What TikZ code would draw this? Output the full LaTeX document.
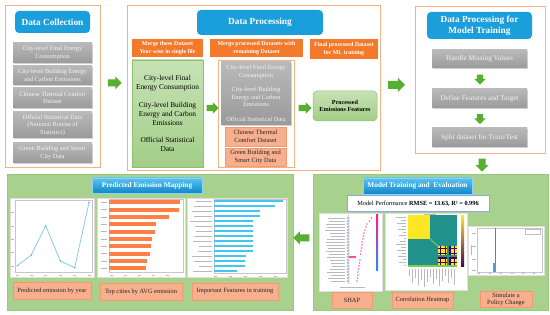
\documentclass[tikz,border=0pt]{standalone}
\usepackage{fontspec}
\setmainfont{Liberation Serif}
\usetikzlibrary{shapes.arrows,shadows}
\definecolor{panelor}{HTML}{F4B183}
\definecolor{hblue}{HTML}{1B9FDB}
\definecolor{gtop}{HTML}{B9B9B9}
\definecolor{gbot}{HTML}{9A9A9A}
\definecolor{gtext}{HTML}{F4F4F4}
\definecolor{orh}{HTML}{F5792B}
\definecolor{salm}{HTML}{F8AF8E}
\definecolor{salmb}{HTML}{F19A70}
\definecolor{gpfill}{HTML}{A9D18E}
\definecolor{gpbord}{HTML}{98C97A}
\definecolor{grlt}{HTML}{C6E2B5}
\definecolor{grdk}{HTML}{A3CE87}
\definecolor{grbord}{HTML}{8CC06C}
\definecolor{garr}{HTML}{58AE31}
\definecolor{sbtop}{HTML}{5CC2EE}
\definecolor{sbbot}{HTML}{0E88CB}
\definecolor{mpbord}{HTML}{8EA9DB}
\definecolor{lineblue}{HTML}{8ACBEA}
\definecolor{coral}{HTML}{FF7F45}
\definecolor{skyb}{HTML}{45C6F2}
\definecolor{shappink}{HTML}{FF1F7A}
\definecolor{shapblue}{HTML}{1E90FF}
\definecolor{vyel}{HTML}{FDE725}
\definecolor{vteal}{HTML}{21918C}
\definecolor{vpur}{HTML}{440154}
\definecolor{vgrn}{HTML}{7AD151}
\definecolor{redl}{HTML}{E05050}
\definecolor{barb}{HTML}{5B9BD5}
\newcommand\myfs[2]{\fontsize{#1}{#2}\selectfont}
\begin{document}
\begin{tikzpicture}[x=1pt,y=-1pt,
  panel/.style={draw=panelor, line width=0.8pt, fill=white, inner sep=0pt},
  gpanel/.style={draw=gpbord, fill=gpfill, line width=0.6pt, inner sep=0pt},
  bighead/.style={rounded corners=4pt, fill=hblue, text=white, font=\bfseries\myfs{9.3}{11}, align=center, inner sep=0pt},
  smallhead/.style={top color=sbtop, bottom color=sbbot, draw=sbtop!70!white, line width=0.4pt, text=white, font=\bfseries\myfs{7.3}{9}, align=center, inner sep=0pt},
  graybox/.style={top color=gtop, bottom color=gbot, draw=none, text=gtext, font=\myfs{6.3}{7.5}, align=center, inner sep=0pt, drop shadow={shadow xshift=0.8pt, shadow yshift=-0.8pt, opacity=0.35}},
  orhead/.style={fill=orh, text=white, font=\bfseries\myfs{5.9}{7.8}, align=center, inner sep=0pt},
  salmonbox/.style={fill=salm, draw=salmb, line width=0.5pt, text=black!85, font=\myfs{6.4}{7.6}, align=center, inner sep=0pt},
  greenbox/.style={top color=grlt, bottom color=grdk, draw=grbord, line width=0.5pt, inner sep=0pt, align=center},
  garrow/.style={single arrow, fill=garr, draw=none, inner sep=3.3pt, single arrow head extend=3pt, single arrow head indent=0pt},
  chart/.style={fill=white, draw=gray!25, line width=0.4pt, inner sep=0pt},
  frm/.style={draw=gray!45, line width=0.4pt},
  tickm/.style={draw=gray!55, line width=0.6pt}
]
\useasboundingbox (0,0) rectangle (550,315);

% ---------- Data Collection ----------
\node[panel, minimum width=95, minimum height=162] (p1) at (52.5,86) {};
\node[bighead, minimum width=75, minimum height=22] (dc) at (52.5,22) {Data Collection};
\node[graybox, minimum width=79, minimum height=20] (g1) at (52.5,53) {City-level Final Energy\\Consumption};
\node[graybox, minimum width=79, minimum height=19] (g2) at (52.5,75.5) {City-level Building Energy\\and Carbon Emissions};
\node[graybox, minimum width=79, minimum height=20] (g3) at (52.5,98) {Chinese Thermal Comfort\\Dataset};
\node[graybox, minimum width=79, minimum height=26] (g4) at (52.5,125) {Official Statistical Data\\(National Bureau of\\Statistics)};
\node[graybox, minimum width=79, minimum height=20] (g5) at (52.5,153) {Green Building and Smart\\City Data};

\node[garrow, minimum height=14, minimum width=13] (a1) at (113,83) {};

% ---------- Data Processing ----------
\node[panel, minimum width=253, minimum height=165] (p2) at (253.5,87.5) {};
\node[bighead, minimum width=126, minimum height=25] (dp) at (260,22.5) {Data Processing};
\node[orhead, minimum width=71, minimum height=18] (oh1) at (167.5,48) {Merge these Dataset\\Year-wise in single file};
\node[orhead, minimum width=93, minimum height=18] (oh2) at (256.5,48) {Merge processed Datasets with\\remaining Dataset};
\node[orhead, minimum width=68, minimum height=20] (oh3) at (344,49) {Final processed Dataset\\for ML training};

\node[greenbox, minimum width=71, minimum height=107, font=\myfs{7.4}{9}] (gb) at (167.5,113.5)
  {City-level Final\\Energy Consumption\\[8.7pt]City-level Building\\Energy and Carbon\\Emissions\\[8.7pt]Official Statistical\\Data};

\node[garrow, inner sep=3pt, single arrow head extend=2.5pt, minimum height=12, minimum width=11] (a2) at (211,108) {};

\node[panel, line width=0.6pt, minimum width=76, minimum height=107] (mc) at (256,113.5) {};
\node[graybox, drop shadow={opacity=0}, minimum width=70, minimum height=63] (gi) at (256,93.5)
  {City-level Final Energy\\Consumption\\[7pt]City-level Building\\Energy and Carbon\\Emissions\\[7pt]Official Statistical Data};
\node[salmonbox, minimum width=61, minimum height=19] (s1) at (255.5,136.5) {Chinese Thermal\\Comfort Dataset};
\node[salmonbox, minimum width=61, minimum height=18] (s2) at (255.5,157) {Green Building and\\Smart City Data};

\node[garrow, inner sep=3pt, single arrow head extend=2.5pt, minimum height=13, minimum width=11] (a3) at (303.5,108) {};

\node[greenbox, rounded corners=4pt, minimum width=64, minimum height=30, font=\bfseries\myfs{6.2}{7.6}, text=black] (pef) at (345,106) {Processed\\Emissions Features};

\node[garrow, inner sep=3.8pt, single arrow head extend=3.2pt, minimum height=17, minimum width=14] (a4) at (394.5,85) {};

% ---------- Data Processing for Model Training ----------
\node[panel, minimum width=130, minimum height=147] (p3) at (480,79.5) {};
\node[bighead, minimum width=105, minimum height=27] (rh) at (479.5,25.5) {Data Processing for\\Model Training};
\node[graybox, font=\myfs{7.2}{8.5}, minimum width=95, minimum height=18] (r1) at (479.5,59) {Handle Missing Values};
\node[graybox, font=\myfs{7.2}{8.5}, minimum width=95, minimum height=19] (r2) at (479.5,98.5) {Define Features and Target};
\node[graybox, font=\myfs{7.2}{8.5}, minimum width=95, minimum height=19] (r3) at (479.5,137.5) {Split dataset for Train/Test};
\node[garrow, inner sep=3pt, single arrow head extend=2.5pt, shape border rotate=270, minimum height=10, minimum width=11] (a5) at (480,78) {};
\node[garrow, inner sep=3pt, single arrow head extend=2.5pt, shape border rotate=270, minimum height=10, minimum width=11] (a6) at (480,117.5) {};
\node[garrow, shape border rotate=270, minimum height=13, minimum width=13] (a7) at (482,163.5) {};

% ---------- Predicted Emission Mapping ----------
\node[gpanel, minimum width=286, minimum height=136] (bl) at (150,242) {};
\node[smallhead, minimum width=110, minimum height=15] (bh) at (147,185.5) {Predicted Emission Mapping};

% chart 1: line chart
\node[chart, minimum width=84, minimum height=79] (c1) at (52,237.5) {};
\draw[frm] (15,200) rectangle (92,272);
\foreach \yy in {212,226,239,252,266} \draw[tickm] (11,\yy) -- (13.5,\yy);
\foreach \xx in {17.3,31.3,45.7,60.3,74.7,89} \draw[tickm] ({\xx-1.5},275) -- ({\xx+1.5},275);
\draw[lineblue, line width=0.8pt, line join=round] (17.3,265.7) -- (31.3,255) -- (45.7,225.7) -- (60.3,261) -- (74.7,267.7) -- (89,202.3);
\foreach \xx/\yy in {17.3/265.7,31.3/255,45.7/225.7,60.3/261,74.7/267.7,89/202.3} \fill[lineblue!80!blue] (\xx,\yy) circle (0.8pt);

% chart 2: orange bars
\node[chart, minimum width=88, minimum height=79] (c2) at (141,237.5) {};
\draw[frm] (109,199) rectangle (183,272);
\foreach \yy/\rr in {202.3/179.7,209.7/179,217/168.7,224.3/155.7,231.7/154.7,239/152.3,246.3/151,253.7/150.3,261/146.7,268.3/145.7}{
  \fill[coral] (109,{\yy-1.9}) rectangle (\rr,{\yy+1.9});
  \draw[tickm] (101,\yy) -- (107,\yy);
}
\foreach \xx in {111,125,139,153,167} \draw[tickm] ({\xx-1.5},275) -- ({\xx+1.5},275);

% chart 3: blue bars
\node[chart, minimum width=100, minimum height=79] (c3) at (237,237.5) {};
\draw[frm] (214,199) rectangle (286,273);
\foreach \i/\rr/\ll in {0/282.7/196,1/275/194,2/260/192,3/260/194,4/252.7/190,5/252.7/195,6/252.7/196,7/252.7/194,8/252.7/193,9/252.7/199,10/252.7/198,11/245.7/192,12/245/194,13/245/199,14/237.3/193}{
  \fill[skyb] (214,{201+5*\i-1.4}) rectangle (\rr,{201+5*\i+1.4});
  \draw[tickm, line width=0.5pt] (\ll,{201+5*\i}) -- (212,{201+5*\i});
}
\foreach \xx in {215,230,245,260,275} \draw[tickm] ({\xx-1.5},276) -- ({\xx+1.5},276);

\node[salmonbox, minimum width=78, minimum height=17] (l1) at (52,290.5) {Predicted emission by year};
\node[salmonbox, minimum width=82, minimum height=17] (l2) at (141,291.5) {Top cities by AVG emission};
\node[salmonbox, minimum width=86, minimum height=17] (l3) at (235,291.5) {Important Features in training};

\node[garrow, shape border rotate=180, minimum height=16, minimum width=13] (a8) at (303,238) {};

% ---------- Model Training and Evaluation ----------
\node[gpanel, minimum width=235, minimum height=136] (br) at (430.5,242) {};
\node[smallhead, minimum width=109, minimum height=16] (mh) at (417.5,186) {Model Training and\ \ Evaluation};
\node[fill=white, draw=mpbord, line width=1pt, minimum width=142, minimum height=16, inner sep=0pt, font=\myfs{6.3}{7.5}] (mp) at (418,204) {Model Performance \textbf{RMSE = 13.63, R² = 0.996}};

% SHAP
\node[chart, minimum width=63, minimum height=78] (c4) at (350.5,252) {};
\draw[draw=gray!40, line width=0.4pt] (348,215) -- (348,284);
\foreach \i/\px/\ll in {0/371.5/328,1/369.5/329,2/367/326,3/366/327,4/365/325,5/364/330,6/363.5/331,7/363/327,8/362/326,9/362/327,10/361.5/328,11/361/326,12/360.5/329,13/355/327,14/360/330,15/359.5/331,16/359/332,17/358.5/330,18/358/327,19/358/331,20/357.5/328,21/357/331}{
  \draw[tickm, line width=0.5pt] (\ll,{218+3*\i}) -- (345,{218+3*\i});
  \fill[shapblue!70] (347.3,{218+3*\i}) circle (0.8pt);
  \fill[shapblue!50!shappink!60] (349,{218+3*\i}) circle (0.6pt);
  \fill[shappink!70] (\px,{218+3*\i}) circle (0.8pt);
}
\draw[shappink!80, line width=1.2pt] (349,257) -- (356,257);
\shade[top color=shappink, bottom color=shapblue] (376,215) rectangle (378,271);
\draw[tickm, line width=0.5pt] (340,287) -- (365,287);

% Correlation heatmap
\node[chart, minimum width=82, minimum height=77] (c5) at (426,251.5) {};
\draw[tickm, line width=0.5pt] (424,213.8) -- (436,213.8);
\fill[vteal] (408,215) rectangle (457,267);
\fill[vyel] (408,215) rectangle (430,239);
\draw[vgrn, line width=0.9pt] (430,239) -- (438,246);
\fill[vyel] (438,246) rectangle (457,265);
\foreach \xx in {440.5,445.5,450,454.5} \fill[vpur] ({\xx-0.7},246) rectangle ({\xx+0.7},265);
\foreach \yy in {248.5,253.5,258,262.5} \fill[vpur] (438,{\yy-0.7}) rectangle (457,{\yy+0.7});
\fill[vteal] (447,246) rectangle (449,265);
\fill[vteal] (438,255.5) rectangle (457,257);
\fill[vgrn] (408,265) rectangle (457,267);
\shade[top color=vyel, middle color=vteal, bottom color=vpur] (461,216) rectangle (464,267);
\foreach \i in {0,...,16} \draw[tickm, line width=0.4pt] ({396+mod(\i*5,9)},{217+3*\i}) -- (406,{217+3*\i});
\foreach \i in {0,...,15} \draw[tickm, line width=0.4pt] ({409.5+3*\i},269) -- ({409.5+3*\i},{276+mod(\i*7,12)});

% Policy change
\node[chart, minimum width=76, minimum height=49] (c6) at (506,250.5) {};
\draw[frm] (477,228) rectangle (542,272);
\draw[draw=gray!50, line width=0.4pt] (525,229.5) rectangle (540.5,234);
\draw[redl, line width=0.6pt] (495,228) -- (495,272);
\fill[barb] (493,263) rectangle (496,272);
\foreach \yy in {233,246,259,270} \draw[tickm, line width=0.5pt] (472,\yy) -- (475.5,\yy);
\draw[tickm, line width=0.4pt] (471,245) -- (471,255);
\foreach \xx in {479,490,501,512,523,534} \draw[tickm, line width=0.4pt] ({\xx-1.3},273.7) -- ({\xx+1.3},273.7);

\node[salmonbox, minimum width=40, minimum height=16] (ls) at (352,300) {SHAP};
\node[salmonbox, minimum width=61, minimum height=16] (lh) at (422.5,300) {Correlation Heatmap};
\node[salmonbox, minimum width=52, minimum height=16] (lp) at (506,299.5) {Simulate a\\Policy Change};
\end{tikzpicture}
\end{document}
